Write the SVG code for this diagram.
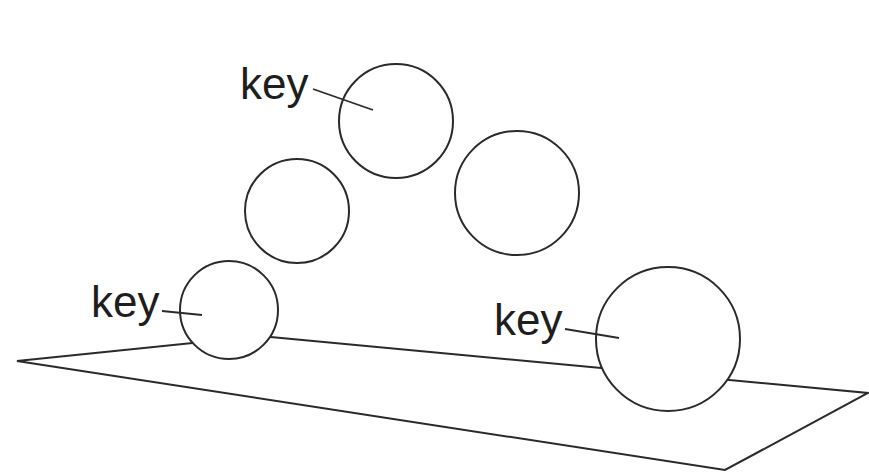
<svg xmlns="http://www.w3.org/2000/svg" width="869" height="472" viewBox="0 0 869 472">
<style>
.ln{fill:none;stroke:#2a2a2a;stroke-width:2;stroke-linejoin:miter}
.ball{fill:#fff;stroke:#2a2a2a;stroke-width:2}
.lbl{font-family:"Liberation Sans",Arial,sans-serif;font-size:44px;fill:#1e1e1e}
.lead{stroke:#2a2a2a;stroke-width:1.8;fill:none}
</style>
<rect width="869" height="472" fill="#fff"/>
<g id="plane">
<polygon class="ln" points="17,361 260,336 868,393 725,470"/>
</g>
<g id="ball1"><circle class="ball" cx="229" cy="310" r="49"/></g>
<g id="ball2"><circle class="ball" cx="297" cy="211" r="52"/></g>
<g id="ball3"><circle class="ball" cx="396" cy="121" r="57"/></g>
<g id="ball4"><circle class="ball" cx="517" cy="193" r="62"/></g>
<g id="ball5"><circle class="ball" cx="668" cy="339" r="72"/></g>
<g id="connectors">
<line class="lead" x1="313" y1="89" x2="373" y2="110"/>
<line class="lead" x1="162" y1="311" x2="202" y2="315"/>
<line class="lead" x1="565" y1="329" x2="619" y2="338"/>
</g>
<g id="label1"><text class="lbl" x="240" y="99">key</text></g>
<g id="label2"><text class="lbl" x="91" y="317">key</text></g>
<g id="label3"><text class="lbl" x="494" y="335">key</text></g>
</svg>
